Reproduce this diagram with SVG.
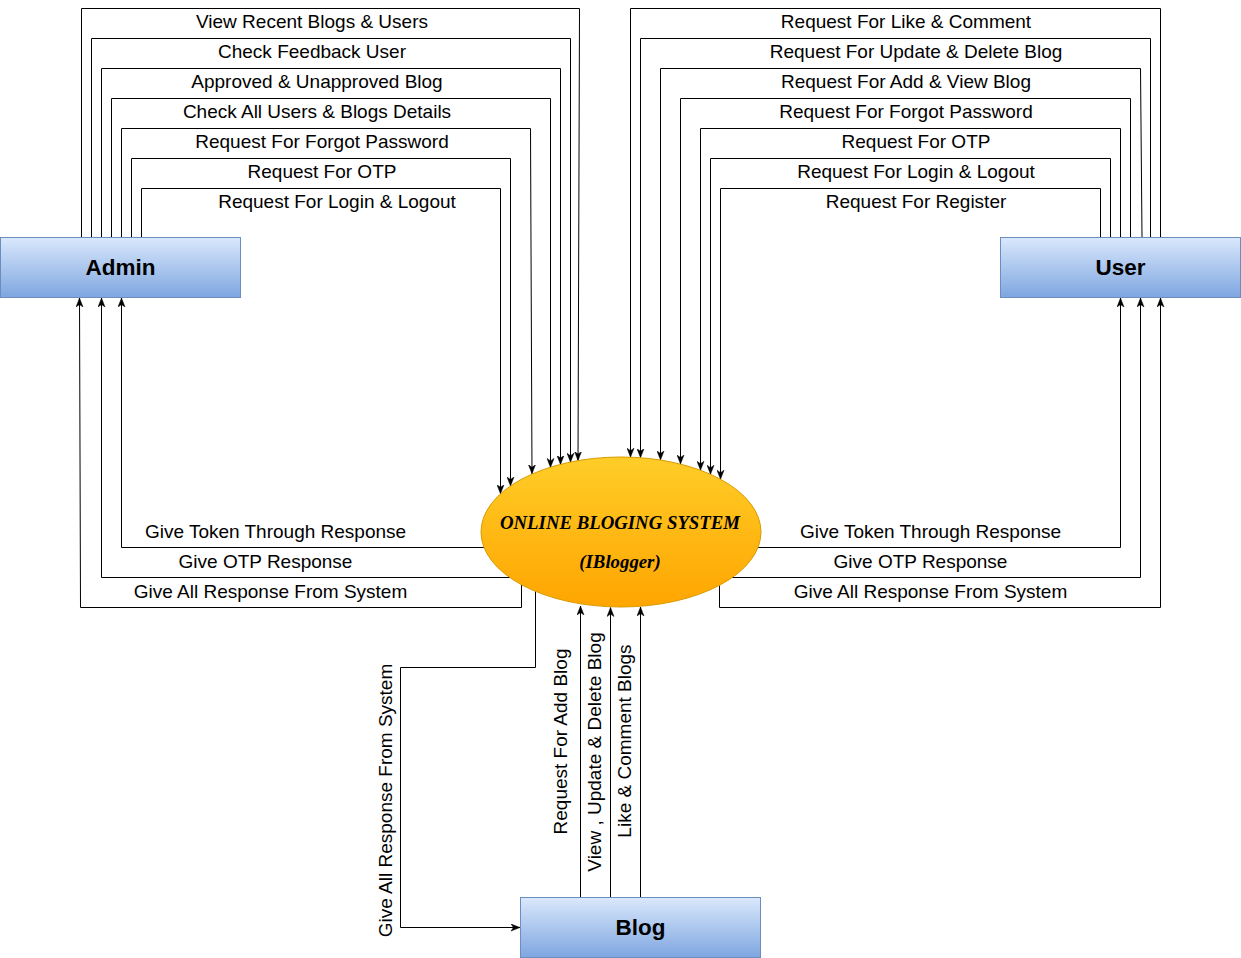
<svg xmlns="http://www.w3.org/2000/svg" width="1241" height="958" viewBox="0 0 1241 958">
  <style>
    .conn { fill: none; stroke: #000; stroke-width: 1; }
    .arr { marker-end: url(#arrow); }
    .lbl { font-family: "Liberation Sans", Arial, sans-serif; font-size: 19px; fill: #000; text-anchor: middle; }
    .node-box { stroke: #6c8ebf; stroke-width: 1; fill: url(#blueGrad); }
    .node-text { font-family: "Liberation Sans", Arial, sans-serif; font-size: 22.5px; font-weight: bold; fill: #000; text-anchor: middle; }
    .sys-text { font-family: "Liberation Serif", "Times New Roman", serif; font-size: 18.8px; font-weight: bold; font-style: italic; fill: #000; text-anchor: middle; }
  </style>
  <defs>
    <linearGradient id="blueGrad" x1="0" y1="0" x2="0" y2="1">
      <stop offset="0" stop-color="#dae8fc"/>
      <stop offset="1" stop-color="#7ea6e0"/>
    </linearGradient>
    <linearGradient id="orangeGrad" x1="0" y1="0" x2="0" y2="1">
      <stop offset="0" stop-color="#ffcd28"/>
      <stop offset="1" stop-color="#ffa500"/>
    </linearGradient>
    <marker id="arrow" markerUnits="userSpaceOnUse" markerWidth="10" markerHeight="8" refX="9" refY="4" orient="auto">
      <path d="M0,0.5 L9,4 L0,7.5 L2.5,4 Z" fill="#000" stroke="#000" stroke-width="0.5"/>
    </marker>
  </defs>
  <rect x="0" y="0" width="1241" height="958" fill="#fff"/>

  <g id="connectors">
    <!-- Admin requests -->
    <path class="conn arr" d="M81.5,237 V8.5 H579.5 L578,460.6"/>
    <path class="conn arr" d="M91.5,237 V38.5 H570.5 V462.2"/>
    <path class="conn arr" d="M101.5,237 V68.5 H560.5 V464.5"/>
    <path class="conn arr" d="M111.5,237 V98.5 H550.5 V467.4"/>
    <path class="conn arr" d="M121.5,237 V128.5 H530.5 L532,473.8"/>
    <path class="conn arr" d="M131.5,237 V158.5 H510.5 V486"/>
    <path class="conn arr" d="M141.5,237 V188.5 H500.5 V493.8"/>
    <!-- User requests -->
    <path class="conn arr" d="M1160.5,237 V8.5 H630.5 V457.2"/>
    <path class="conn arr" d="M1150.5,237 V38.5 H640.5 V457.7"/>
    <path class="conn arr" d="M1142,237 L1140.5,68.5 H660.5 V460"/>
    <path class="conn arr" d="M1130.5,237 V98.5 H680.5 V464.1"/>
    <path class="conn arr" d="M1120.5,237 V128.5 H700.5 V470.3"/>
    <path class="conn arr" d="M1110.5,237 V158.5 H710.5 V474.3"/>
    <path class="conn arr" d="M1100.5,237 V188.5 H720.5 V479.2"/>
    <!-- Responses to Admin -->
    <path class="conn arr" d="M484,547.5 H121.5 V298"/>
    <path class="conn arr" d="M510,577.5 H101.5 V298"/>
    <path class="conn arr" d="M521.5,585 V607.5 H80.5 L79.5,298"/>
    <!-- Responses to User -->
    <path class="conn arr" d="M758,547.5 H1120.5 V298"/>
    <path class="conn arr" d="M732,577.5 H1140.5 V298"/>
    <path class="conn arr" d="M719.5,585.3 V607.5 H1160.5 V298"/>
    <!-- Blog -->
    <path class="conn arr" d="M580.5,897 V606"/>
    <path class="conn arr" d="M610.5,897 V607.5"/>
    <path class="conn arr" d="M640.5,897 V607"/>
    <path class="conn arr" d="M535.5,591 V667.5 H400.5 V927.5 H520"/>

    <!-- Labels -->
    <text class="lbl" x="312" y="28">View Recent Blogs &amp; Users</text>
    <text class="lbl" x="312" y="58">Check Feedback User</text>
    <text class="lbl" x="317" y="88">Approved &amp; Unapproved Blog</text>
    <text class="lbl" x="317" y="118">Check All Users &amp; Blogs Details</text>
    <text class="lbl" x="322" y="148">Request For Forgot Password</text>
    <text class="lbl" x="322" y="178">Request For OTP</text>
    <text class="lbl" x="337" y="208">Request For Login &amp; Logout</text>

    <text class="lbl" x="906" y="28">Request For Like &amp; Comment</text>
    <text class="lbl" x="916" y="58">Request For Update &amp; Delete Blog</text>
    <text class="lbl" x="906" y="88">Request For Add &amp; View Blog</text>
    <text class="lbl" x="906" y="118">Request For Forgot Password</text>
    <text class="lbl" x="916" y="148">Request For OTP</text>
    <text class="lbl" x="916" y="178">Request For Login &amp; Logout</text>
    <text class="lbl" x="916" y="208">Request For Register</text>

    <text class="lbl" x="275.5" y="538">Give Token Through Response</text>
    <text class="lbl" x="265.5" y="568">Give OTP Response</text>
    <text class="lbl" x="270.5" y="598">Give All Response From System</text>
    <text class="lbl" x="930.5" y="538">Give Token Through Response</text>
    <text class="lbl" x="920.5" y="568">Give OTP Response</text>
    <text class="lbl" x="930.5" y="598">Give All Response From System</text>

    <text class="lbl" transform="translate(567,741.5) rotate(-90)">Request For Add Blog</text>
    <text class="lbl" transform="translate(601,752) rotate(-90)">View , Update &amp; Delete Blog</text>
    <text class="lbl" transform="translate(631,741) rotate(-90)">Like &amp; Comment Blogs</text>
    <text class="lbl" transform="translate(392,800.5) rotate(-90)">Give All Response From System</text>
  </g>

  <g id="admin">
    <rect class="node-box" x="0.5" y="237.5" width="240" height="60"/>
    <text class="node-text" x="120.5" y="275">Admin</text>
  </g>
  <g id="user">
    <rect class="node-box" x="1000.5" y="237.5" width="240" height="60"/>
    <text class="node-text" x="1120.5" y="275">User</text>
  </g>
  <g id="blog">
    <rect class="node-box" x="520.5" y="897.5" width="240" height="60"/>
    <text class="node-text" x="640.5" y="935">Blog</text>
  </g>
  <g id="system">
    <ellipse cx="621" cy="532" rx="140" ry="75" fill="url(#orangeGrad)" stroke="#d79b00" stroke-width="1"/>
    <text class="sys-text" x="620" y="529">ONLINE BLOGING SYSTEM</text>
    <text class="sys-text" x="620" y="568">(IBlogger)</text>
  </g>
</svg>
